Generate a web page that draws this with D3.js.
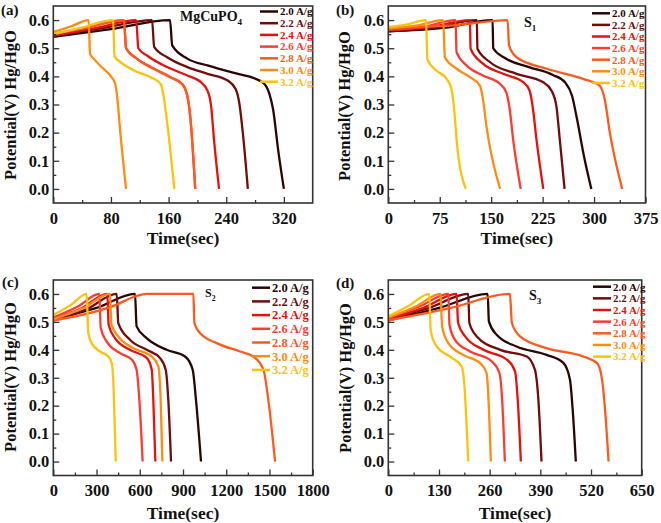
<!DOCTYPE html>
<html><head><meta charset="utf-8">
<script src="https://cdn.jsdelivr.net/npm/d3@7/dist/d3.min.js"></script>
<style>
body{margin:0;background:#fff}
svg text{font-family:"Liberation Serif","Times New Roman",serif;font-weight:bold}
</style>
</head><body>
<svg id="chart" width="661" height="523"></svg>
<script>
// ---------- DATA ----------
const currents = ["2.0 A/g","2.2 A/g","2.4 A/g","2.6 A/g","2.8 A/g","3.0 A/g","3.2 A/g"];
const yTicks = [0.0,0.1,0.2,0.3,0.4,0.5,0.6];
const xTicksA = [0,80,160,240,320];
const xTicksB = [0,75,150,225,300,375];
const xTicksC = [0,300,600,900,1200,1500,1800];
const xTicksD = [0,130,260,390,520,650];

// each series: [time (s), potential (V)]
const panelA = [
  [[0,0.54],[80,0.568],[162,0.6],[165,0.51],[186,0.463],[214,0.439],[251,0.412],[279,0.393],[293,0.373],[300,0.337],[305,0.283],[312,0.14],[320,0]],
  [[0,0.545],[70,0.572],[137,0.6],[140,0.505],[158,0.468],[186,0.433],[214,0.409],[242,0.385],[253,0.355],[258,0.307],[263,0.2],[270,0]],
  [[0,0.545],[60,0.572],[115,0.6],[118,0.5],[130,0.474],[158,0.433],[186,0.403],[205,0.379],[214,0.349],[219,0.295],[223,0.176],[230,0]],
  [[0,0.55],[50,0.575],[98,0.6],[101,0.5],[116,0.463],[140,0.427],[163,0.397],[179,0.373],[186,0.331],[190,0.259],[197,0]],
  [[0,0.55],[50,0.576],[98,0.6],[101,0.5],[116,0.462],[140,0.426],[163,0.396],[179,0.372],[186,0.33],[190,0.258],[197,0]],
  [[0,0.558],[25,0.578],[49,0.6],[51,0.48],[56,0.463],[67,0.433],[79,0.403],[86,0.373],[89,0.319],[93,0.2],[101,0]],
  [[0,0.55],[42,0.575],[83,0.6],[85,0.47],[93,0.451],[112,0.421],[135,0.397],[149,0.373],[153,0.331],[158,0.235],[168,0]]
];
const panelB = [
  [[0,0.56],[80,0.572],[152,0.6],[153,0.5],[170,0.465],[205,0.433],[240,0.405],[258,0.378],[268,0.33],[275,0.25],[285,0.12],[296,0]],
  [[0,0.56],[65,0.572],[129,0.6],[130,0.498],[148,0.451],[187,0.409],[226,0.379],[238,0.349],[245,0.295],[250,0.176],[257,0]],
  [[0,0.565],[60,0.575],[119,0.6],[120,0.498],[138,0.445],[167.5,0.409],[197,0.379],[206,0.349],[211,0.283],[216,0.176],[226,0]],
  [[0,0.565],[50,0.575],[98,0.6],[99.5,0.486],[114,0.439],[138,0.403],[163,0.373],[172,0.343],[177,0.283],[182,0.176],[193,0]],
  [[0,0.575],[90,0.58],[174,0.6],[176,0.51],[187,0.468],[231,0.427],[284,0.391],[308,0.367],[315.5,0.319],[323,0.2],[341,0]],
  [[0,0.57],[40,0.58],[80,0.6],[82.5,0.468],[99.5,0.427],[119,0.397],[133.5,0.367],[138,0.319],[143,0.224],[163,0]],
  [[0,0.575],[28,0.585],[55,0.6],[57,0.46],[70,0.421],[85,0.391],[92,0.355],[96,0.283],[100,0.164],[113,0]]
];
const panelC = [
  [[0,0.51],[300,0.55],[567,0.6],[578,0.484],[648,0.442],[787,0.4],[914,0.376],[967,0.329],[990,0.221],[1025,0]],
  [[0,0.505],[230,0.545],[440,0.6],[451,0.496],[532,0.436],[648,0.4],[740,0.371],[780,0.329],[798,0.221],[817,0]],
  [[0,0.51],[200,0.55],[375,0.6],[384,0.49],[428,0.442],[532,0.4],[648,0.371],[683,0.329],[694,0.221],[708,0]],
  [[0,0.515],[170,0.555],[319,0.6],[329,0.478],[370,0.43],[463,0.388],[544,0.365],[578,0.329],[597,0.221],[620,0]],
  [[0,0.505],[200,0.525],[440,0.562],[560,0.59],[650,0.6],[972,0.6],[979,0.496],[1018,0.46],[1134,0.424],[1296,0.394],[1388,0.376],[1458,0.329],[1492,0.221],[1539,0]],
  [[0,0.51],[210,0.55],[393,0.6],[403,0.49],[451,0.448],[555,0.406],[683,0.376],[729,0.341],[745,0.221],[757,0]],
  [[0,0.525],[120,0.56],[231,0.6],[243,0.46],[266,0.424],[324,0.394],[382,0.376],[405,0.353],[416,0.293],[423,0.185],[433,0]]
];
const panelD = [
  [[0,0.505],[130,0.55],[255,0.6],[258,0.502],[278,0.454],[329,0.412],[406,0.382],[449,0.353],[466,0.293],[473,0.185],[481,0]],
  [[0,0.51],[105,0.55],[205,0.6],[208,0.496],[227,0.448],[287,0.4],[355,0.376],[376,0.329],[385,0.221],[393,0]],
  [[0,0.51],[90,0.55],[175,0.6],[179,0.496],[197,0.448],[244,0.4],[304,0.365],[325,0.323],[332,0.221],[340,0]],
  [[0,0.515],[80,0.555],[154,0.6],[157,0.49],[171,0.436],[210,0.394],[265,0.359],[285,0.317],[292,0.221],[299,0]],
  [[0,0.505],[160,0.55],[312,0.6],[317,0.496],[338,0.448],[406,0.406],[500,0.376],[535,0.353],[547,0.305],[556,0.185],[565,0]],
  [[0,0.515],[70,0.555],[134,0.6],[138,0.484],[154,0.424],[192,0.382],[235,0.353],[252,0.317],[257,0.221],[263,0]],
  [[0,0.52],[55,0.56],[105,0.6],[109,0.466],[124,0.412],[158,0.376],[188,0.341],[194,0.293],[199,0.185],[205,0]]
];

// ---------- STYLE / LAYOUT ----------
const colors = ["#2b0505","#700c0c","#e8100a","#ff3a2e","#ff5a1e","#ff8c10","#ffc20a"];

const panels = [
  {label:"(a)", title:"MgCuPO", sub:"4", data:panelA, xTicks:xTicksA, xMax:360,
   L:53.3, R:312.7, T:6, B:203, labX:1, labY:15, titX:180, titY:21, titFs:14,
   ytX:16, ytY:105, xtY:244, lgX:260, lgY:11.5, lgDy:11.7, lgFs:11},
  {label:"(b)", title:"S", sub:"1", data:panelB, xTicks:xTicksB, xMax:375,
   L:388.3, R:645.5, T:6, B:203, labX:336, labY:15, titX:524, titY:27, titFs:14,
   ytX:350, ytY:106, xtY:244, lgX:592, lgY:13.3, lgDy:11.6, lgFs:11},
  {label:"(c)", title:"S", sub:"2", data:panelC, xTicks:xTicksC, xMax:1800,
   L:53.3, R:312.7, T:280, B:475.5, labX:2, labY:287, titX:205, titY:297, titFs:12,
   ytX:16, ytY:377, xtY:519, lgX:252, lgY:287.7, lgDy:13.7, lgFs:12.5},
  {label:"(d)", title:"S", sub:"3", data:panelD, xTicks:xTicksD, xMax:650,
   L:388.3, R:641.7, T:280, B:475.5, labX:336, labY:288, titX:529, titY:300, titFs:14,
   ytX:350.5, ytY:378, xtY:519, lgX:593, lgY:286.7, lgDy:11.65, lgFs:11}
];

const svg = d3.select("#chart");

panels.forEach((p, pi) => {
  const x = d3.scaleLinear().domain([0, p.xMax]).range([p.L, p.R]);
  const y = d3.scaleLinear().domain([-0.05, 0.65]).range([p.B, p.T]);
  const g = svg.append("g");

  const clipId = "clip" + pi;
  svg.append("clipPath").attr("id", clipId).append("rect")
    .attr("x", p.L).attr("y", p.T).attr("width", p.R - p.L).attr("height", p.B - p.T);

  // curves
  const line = d3.line().x(d => x(d[0])).y(d => y(d[1])).curve(d3.curveMonotoneX);
  const cg = g.append("g").attr("clip-path", `url(#${clipId})`);
  p.data.forEach((s, i) => {
    cg.append("path").attr("d", line(s)).attr("fill", "none")
      .attr("stroke", colors[i]).attr("stroke-width", 2.3).attr("stroke-linejoin", "round");
  });

  // x axis
  const step = p.xTicks[1] - p.xTicks[0];
  const minorX = p.xTicks.map(t => t + step / 2).filter(t => t < p.xMax);
  const xa = g.append("g").attr("transform", `translate(0,${p.B})`)
    .call(d3.axisBottom(x).tickValues(p.xTicks).tickSize(-6).tickPadding(9).tickFormat(d3.format("d")));
  xa.select(".domain").remove();
  xa.selectAll("line").attr("stroke", "#333").attr("stroke-width", 1.3);
  xa.selectAll("text").attr("font-size", 16.5).attr("fill", "#111")
    .attr("font-family", "Liberation Serif, serif").attr("font-weight", "bold");
  const xm = g.append("g").attr("transform", `translate(0,${p.B})`)
    .call(d3.axisBottom(x).tickValues(minorX).tickSize(-3).tickFormat(""));
  xm.select(".domain").remove();
  xm.selectAll("line").attr("stroke", "#333").attr("stroke-width", 1.3);

  // y axis
  const ya = g.append("g").attr("transform", `translate(${p.L},0)`)
    .call(d3.axisLeft(y).tickValues(yTicks).tickSize(-6).tickPadding(4).tickFormat(d3.format(".1f")));
  ya.select(".domain").remove();
  ya.selectAll("line").attr("stroke", "#333").attr("stroke-width", 1.3);
  ya.selectAll("text").attr("font-size", 16.5).attr("fill", "#111")
    .attr("font-family", "Liberation Serif, serif").attr("font-weight", "bold");
  const ym = g.append("g").attr("transform", `translate(${p.L},0)`)
    .call(d3.axisLeft(y).tickValues(yTicks.slice(0, -1).map(v => v + 0.05)).tickSize(-3).tickFormat(""));
  ym.select(".domain").remove();
  ym.selectAll("line").attr("stroke", "#333").attr("stroke-width", 1.3);

  // frame
  g.append("rect").attr("x", p.L).attr("y", p.T).attr("width", p.R - p.L).attr("height", p.B - p.T)
    .attr("fill", "none").attr("stroke", "#333").attr("stroke-width", 1.6);

  // axis titles
  g.append("text").attr("x", (p.L + p.R) / 2).attr("y", p.xtY).attr("text-anchor", "middle")
    .attr("font-size", 17.5).attr("fill", "#111").text("Time(sec)");
  g.append("text").attr("transform", `translate(${p.ytX},${p.ytY}) rotate(-90)`)
    .attr("text-anchor", "middle").attr("font-size", 16.5).attr("fill", "#111").text("Potential(V) Hg/HgO");

  // panel label
  g.append("text").attr("x", p.labX).attr("y", p.labY).attr("font-size", 15).attr("fill", "#111").text(p.label);

  // title
  const tt = g.append("text").attr("x", p.titX).attr("y", p.titY).attr("font-size", p.titFs).attr("fill", "#111");
  tt.append("tspan").text(p.title);
  tt.append("tspan").attr("dy", p.titFs * 0.3).attr("font-size", p.titFs * 0.65).text(p.sub);

  // legend
  currents.forEach((c, i) => {
    const ly = p.lgY + i * p.lgDy;
    g.append("line").attr("x1", p.lgX).attr("x2", p.lgX + 18).attr("y1", ly).attr("y2", ly)
      .attr("stroke", colors[i]).attr("stroke-width", 2.5);
    g.append("text").attr("x", p.lgX + 20).attr("y", ly).attr("dy", "0.35em")
      .attr("font-size", p.lgFs).attr("fill", colors[i]).text(c);
  });
});
</script>
</body></html>
